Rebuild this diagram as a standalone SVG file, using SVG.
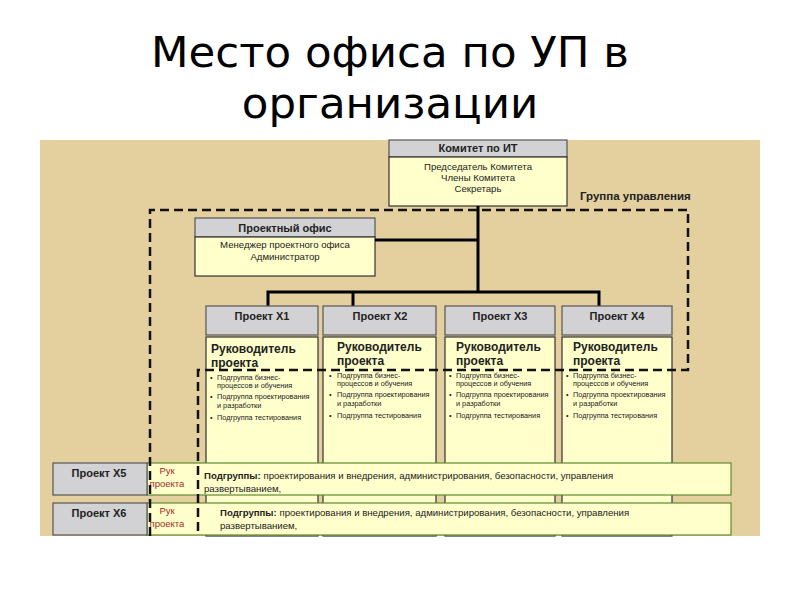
<svg xmlns="http://www.w3.org/2000/svg" width="800" height="600" viewBox="0 0 800 600">
<style>
.title{font-family:"DejaVu Sans",sans-serif;font-size:43.5px;fill:#000;text-anchor:middle}
.t{font-family:"Liberation Sans",Arial,sans-serif;fill:#222}
.hdr{fill:#D2D2D4;stroke:#555;stroke-width:1.2}
.body{fill:#FFFFCC;stroke:#333;stroke-width:1.2}
.row{fill:#FFFFCC;stroke:#5E8A2E;stroke-width:1.2}
.hb{font-weight:bold;font-size:11px;text-anchor:middle}
.sm{font-size:9.6px;text-anchor:middle}
.rk{font-weight:bold;font-size:12px}
.bl{font-size:7.3px}
.red{fill:#A52A2A;font-size:9.5px;text-anchor:middle}
.rowtxt{font-size:9.6px}
.con{stroke:#000;stroke-width:3;fill:none}
.dash{stroke:#111;stroke-width:2.5;fill:none;stroke-dasharray:9,5}
</style>
<rect width="800" height="600" fill="#fff"/>
<text class="title" x="390" y="67">Место офиса по УП в</text>
<text class="title" x="390" y="118">организации</text>
<rect x="40" y="140" width="720" height="396" fill="#E4D09E"/>

<g id="committee">
<rect class="hdr" x="389" y="140" width="178" height="17"/>
<text class="t hb" x="478" y="152">Комитет по ИТ</text>
<rect class="body" x="389" y="157" width="178" height="49"/>
<text class="t sm" x="478" y="170">Председатель Комитета</text>
<text class="t sm" x="478" y="181">Члены Комитета</text>
<text class="t sm" x="478" y="192">Секретарь</text>
</g>
<text class="t" x="580" y="200" font-size="11.5" font-weight="bold">Группа управления</text>

<g id="office">
<rect class="hdr" x="195" y="218" width="180" height="19"/>
<text class="t hb" x="285" y="232">Проектный офис</text>
<rect class="body" x="195" y="237" width="180" height="39"/>
<text class="t sm" x="285" y="248" font-size="9.2">Менеджер проектного офиса</text>
<text class="t sm" x="285" y="260" font-size="9.2">Администратор</text>
</g>

<g id="connectors">
<path class="con" d="M478 206V292M375 240H478M268 306V292H599V306M353 292V306"/>
</g>

<g id="x1">
<rect class="body" x="206" y="337" width="112" height="199"/>
<rect class="hdr" x="206" y="306" width="112" height="29"/>
<text class="t hb" x="262" y="320">Проект X1</text>
<text class="t rk" x="211" y="353">Руководитель</text>
<text class="t rk" x="211" y="367">проекта</text>
<text class="t bl" x="210" y="380">•</text><text class="t bl" x="217" y="380">Подгруппа бизнес-</text>
<text class="t bl" x="217" y="388">процессов и обучения</text>
<text class="t bl" x="210" y="399">•</text><text class="t bl" x="217" y="399">Подгруппа проектирования</text>
<text class="t bl" x="217" y="408">и разработки</text>
<text class="t bl" x="210" y="420">•</text><text class="t bl" x="217" y="420">Подгруппа тестирования</text>
</g>
<g id="x2">
<rect class="body" x="323" y="337" width="113" height="199"/>
<rect class="hdr" x="323" y="306" width="113" height="29"/>
<text class="t hb" x="380" y="320">Проект X2</text>
<text class="t rk" x="337" y="351">Руководитель</text>
<text class="t rk" x="337" y="365">проекта</text>
<text class="t bl" x="329" y="378">•</text><text class="t bl" x="337" y="378">Подгруппа бизнес-</text>
<text class="t bl" x="337" y="386">процессов и обучения</text>
<text class="t bl" x="329" y="397">•</text><text class="t bl" x="337" y="397">Подгруппа проектирования</text>
<text class="t bl" x="337" y="406">и разработки</text>
<text class="t bl" x="329" y="418">•</text><text class="t bl" x="337" y="418">Подгруппа тестирования</text>
</g>
<g id="x3">
<rect class="body" x="445" y="337" width="110" height="199"/>
<rect class="hdr" x="445" y="306" width="110" height="29"/>
<text class="t hb" x="500" y="320">Проект X3</text>
<text class="t rk" x="456" y="351">Руководитель</text>
<text class="t rk" x="456" y="365">проекта</text>
<text class="t bl" x="449" y="378">•</text><text class="t bl" x="456" y="378">Подгруппа бизнес-</text>
<text class="t bl" x="456" y="386">процессов и обучения</text>
<text class="t bl" x="449" y="397">•</text><text class="t bl" x="456" y="397">Подгруппа проектирования</text>
<text class="t bl" x="456" y="406">и разработки</text>
<text class="t bl" x="449" y="418">•</text><text class="t bl" x="456" y="418">Подгруппа тестирования</text>
</g>
<g id="x4">
<rect class="body" x="562" y="337" width="110" height="199"/>
<rect class="hdr" x="562" y="306" width="110" height="29"/>
<text class="t hb" x="617" y="320">Проект X4</text>
<text class="t rk" x="573" y="351">Руководитель</text>
<text class="t rk" x="573" y="365">проекта</text>
<text class="t bl" x="566" y="378">•</text><text class="t bl" x="573" y="378">Подгруппа бизнес-</text>
<text class="t bl" x="573" y="386">процессов и обучения</text>
<text class="t bl" x="566" y="397">•</text><text class="t bl" x="573" y="397">Подгруппа проектирования</text>
<text class="t bl" x="573" y="406">и разработки</text>
<text class="t bl" x="566" y="418">•</text><text class="t bl" x="573" y="418">Подгруппа тестирования</text>
</g>

<g id="x5">
<rect class="row" x="147" y="463" width="584" height="32"/>
<rect class="hdr" x="53" y="463" width="94" height="32" stroke="#333"/>
<text class="t hb" x="99" y="477">Проект X5</text>
<text class="t red" x="167" y="474">Рук</text>
<text class="t red" x="167" y="487">проекта</text>
<text class="t rowtxt" x="204" y="479"><tspan font-weight="bold">Подгруппы:</tspan> проектирования и внедрения, администрирования, безопасности, управления</text>
<text class="t rowtxt" x="204" y="492">развертыванием,</text>
</g>
<g id="x6">
<rect class="row" x="147" y="503" width="584" height="32"/>
<rect class="hdr" x="53" y="503" width="94" height="32" stroke="#333"/>
<text class="t hb" x="99" y="517">Проект X6</text>
<text class="t red" x="167" y="514">Рук</text>
<text class="t red" x="167" y="527">проекта</text>
<text class="t rowtxt" x="220" y="516"><tspan font-weight="bold">Подгруппы:</tspan> проектирования и внедрения, администрирования, безопасности, управления</text>
<text class="t rowtxt" x="220" y="529">развертыванием,</text>
</g>

<g id="group">
<path class="dash" d="M150 536V210H688V370H198V536"/>
</g>
</svg>
